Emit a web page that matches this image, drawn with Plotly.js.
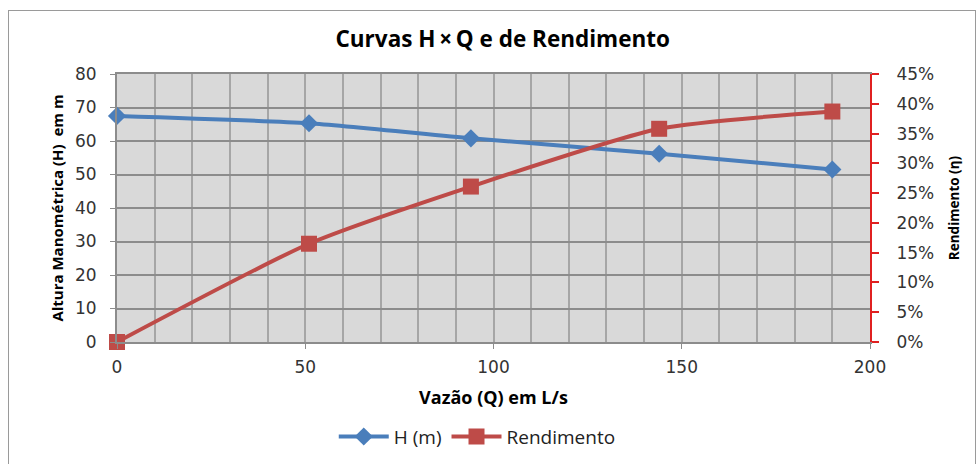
<!DOCTYPE html>
<html>
<head>
<meta charset="utf-8">
<script src="https://cdn.plot.ly/plotly-3.0.1.min.js"></script>
<style>
  html, body { margin: 0; padding: 0; background: #fff; }
  #wrap { position: relative; width: 980px; height: 464px; }
  #chart { width: 980px; height: 464px; }
  #frame { position: absolute; left: 8px; top: 10px; width: 966px; height: 470px; border: 1px solid #9a9a9a; pointer-events: none; }
</style>
</head>
<body>
<div id="wrap">
  <div id="chart"></div>
  <div id="frame"></div>
</div>
<script>
const vazao = [0, 51, 94, 144, 190];
const alturaH = [67.5, 65.3, 60.8, 56.2, 51.5];
const rendimento = [0, 0.165, 0.261, 0.358, 0.387];
const seriesNames = ['H (m)', 'Rendimento'];

const traces = [
  {
    x: vazao, y: alturaH, name: seriesNames[0], type: 'scatter', mode: 'lines+markers',
    line: {color: '#4A7EBB', width: 4, shape: 'spline', smoothing: 0.6},
    marker: {symbol: 'diamond', size: 14, color: '#4A7EBB'},
    cliponaxis: false, yaxis: 'y'
  },
  {
    x: vazao, y: rendimento, name: seriesNames[1], type: 'scatter', mode: 'lines+markers',
    line: {color: '#BE4B48', width: 4, shape: 'spline', smoothing: 0.6},
    marker: {symbol: 'square', size: 16, color: '#BE4B48'},
    cliponaxis: false, yaxis: 'y2'
  }
];

const tickFont = {family: 'DejaVu Sans, Verdana, sans-serif', size: 17, color: '#333'};
const titleFontFam = 'Open Sans, Liberation Sans, sans-serif';

const layout = {
  width: 980, height: 464,
  margin: {l: 117, r: 110, t: 74, b: 122},
  paper_bgcolor: '#ffffff',
  plot_bgcolor: '#D9D9D9',
  title: {text: '<b>Curvas H\u2009\u00D7\u2009Q e de Rendimento</b>', x: 0.513, xanchor: 'center', y: 0.915, yanchor: 'middle',
          font: {family: titleFontFam, size: 22.5, color: '#000'}},
  showlegend: true,
  legend: {orientation: 'h', x: 0.487, xanchor: 'center', xref: 'container', y: 0.018, yref: 'container', yanchor: 'bottom',
           font: {family: titleFontFam, size: 19, color: '#222'}, traceorder: 'normal', itemwidth: 50, itemsizing: 'trace'},
  xaxis: {
    range: [0, 200], dtick: 50, tick0: 0,
    showgrid: true, gridcolor: '#A6A6A6', gridwidth: 2,
    zeroline: false,
    showline: true, linecolor: '#8c8c8c', linewidth: 2, mirror: true,
    ticks: 'outside', ticklen: 5, tickcolor: '#8c8c8c', tickwidth: 1,
    ticklabelstandoff: 4,
    tickfont: tickFont, automargin: false,
    minor: {dtick: 10, showgrid: true, gridcolor: '#A6A6A6', gridwidth: 2},
    title: {text: '<b>Vazão (Q) em L/s</b>', font: {family: titleFontFam, size: 18, color: '#000'}, standoff: 15}
  },
  yaxis: {
    range: [0, 80], dtick: 10,
    showgrid: true, gridcolor: '#8C8C8C', gridwidth: 2,
    zeroline: false, showline: true, linecolor: '#8c8c8c', linewidth: 2,
    ticks: 'outside', ticklen: 5, tickcolor: '#8c8c8c',
    ticklabelstandoff: 10,
    tickfont: tickFont, automargin: false,
    title: {text: '<b>Altura Manométrica (H)  em m</b>', font: {family: titleFontFam, size: 15, color: '#000'}, standoff: 8}
  },
  yaxis2: {
    range: [0, 0.45], dtick: 0.05, tickformat: '.0%',
    overlaying: 'y', side: 'right',
    showgrid: false, zeroline: false,
    showline: true, linecolor: '#E02020', linewidth: 2,
    ticks: 'outside', ticklen: 7, tickcolor: '#E02020', tickwidth: 2,
    ticklabelstandoff: 14,
    tickfont: tickFont, automargin: false,
    title: {text: '<b>Rendimento (\u03B7)</b>', font: {family: titleFontFam, size: 13.5, color: '#000'}, standoff: 16}
  }
};

Plotly.newPlot('chart', traces, layout, {displayModeBar: false, staticPlot: true});
</script>
</body>
</html>
